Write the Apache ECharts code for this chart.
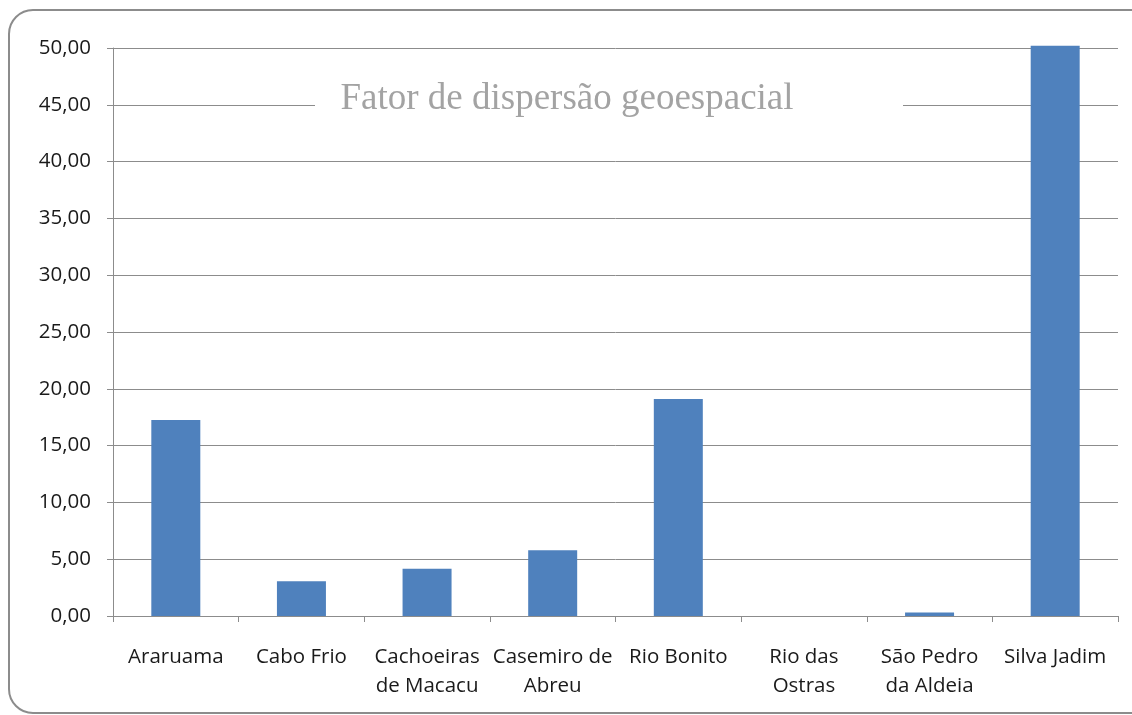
<!DOCTYPE html>
<html>
<head>
<meta charset="utf-8">
<script src="https://cdn.jsdelivr.net/npm/echarts@6/dist/echarts.min.js"></script>
<style>
  html, body { margin: 0; padding: 0; background: #fff; }
  #chart { width: 1132px; height: 715px; }
</style>
</head>
<body>
<div id="chart"></div>
<script>
// Municipalities and their geospatial dispersion factor
const categories = [
  'Araruama', 'Cabo Frio', 'Cachoeiras\nde Macacu', 'Casemiro de\nAbreu',
  'Rio Bonito', 'Rio das\nOstras', 'São Pedro\nda Aldeia', 'Silva Jadim'
];
const values = [17.25, 3.05, 4.15, 5.78, 19.1, 0, 0.3, 50.2];
const titleText = 'Fator de dispersão geoespacial';

const chart = echarts.init(document.getElementById('chart'), null, { renderer: 'canvas' });

const gridLeft = 113, gridRight = 14, gridTop = 48, gridBottom = 99;

chart.setOption({
  animation: false,
  backgroundColor: '#ffffff',
  title: {
    text: titleText,
    left: 562,
    textAlign: 'center',
    top: 76,
    textStyle: {
      fontFamily: '"Liberation Serif", "DejaVu Serif", serif',
      fontWeight: 'normal',
      fontSize: 37,
      color: '#a3a3a3'
    },
    z: 10
  },
  graphic: [
    {
      // outer rounded frame
      type: 'rect',
      shape: { x: 9, y: 10, width: 1160, height: 703, r: 24 },
      style: { fill: 'none', stroke: '#8c8c8c', lineWidth: 2 },
      z: 1,
      silent: true
    },
    {
      // white band behind the title, interrupting the grid line
      type: 'rect',
      shape: { x: 315, y: 86, width: 588, height: 36 },
      style: { fill: '#ffffff' },
      z: 5,
      silent: true
    }
  ],
  grid: { left: gridLeft, right: gridRight, top: gridTop, bottom: gridBottom, containLabel: false },
  xAxis: {
    type: 'category',
    data: categories,
    axisLine: { lineStyle: { color: '#8c8c8c', width: 1 } },
    axisTick: { show: true, length: 6, alignWithLabel: false, lineStyle: { color: '#8c8c8c' } },
    axisLabel: {
      interval: 0,
      margin: 27,
      fontFamily: '"Open Sans", "Noto Sans", sans-serif',
      fontSize: 20.5,
      lineHeight: 29,
      color: '#1a1a1a'
    }
  },
  yAxis: {
    type: 'value',
    min: 0,
    max: 50,
    interval: 5,
    axisLine: { show: true, lineStyle: { color: '#8c8c8c', width: 1 } },
    axisTick: { show: true, length: 6, lineStyle: { color: '#8c8c8c' } },
    splitLine: { show: true, lineStyle: { color: '#8c8c8c', width: 1 } },
    axisLabel: {
      margin: 22,
      fontFamily: '"Open Sans", "Noto Sans", sans-serif',
      fontSize: 20.5,
      color: '#1a1a1a',
      formatter: v => v.toFixed(2).replace('.', ',')
    }
  },
  series: [{
    type: 'bar',
    data: values,
    barWidth: '39%',
    clip: false,
    itemStyle: { color: '#4f81bd' },
    z: 3
  }]
});
</script>
</body>
</html>
